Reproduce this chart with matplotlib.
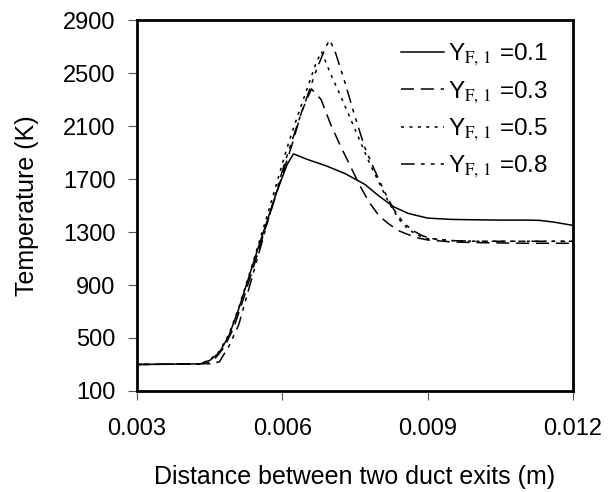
import matplotlib
matplotlib.use('Agg')
import matplotlib.pyplot as plt

# distance (m) and temperature (K), one pair of arrays per fuel fraction
x_01 = [0.003, 0.0043, 0.0045, 0.0047, 0.0049, 0.0051, 0.0053, 0.0055, 0.0057, 0.0059,
        0.0061, 0.00623, 0.0065, 0.0069, 0.0073, 0.0077, 0.0080, 0.0083, 0.0086, 0.0090,
        0.0095, 0.0100, 0.0105, 0.0110, 0.0113, 0.0116, 0.0120]
t_01 = [300, 305, 330, 390, 520, 720, 950, 1180, 1400, 1620,
        1810, 1890, 1850, 1800, 1740, 1660, 1570, 1490, 1440, 1405,
        1395, 1392, 1390, 1390, 1388, 1375, 1350]

x_03 = [0.003, 0.0044, 0.0046, 0.0048, 0.0050, 0.0052, 0.0054, 0.0056, 0.0058, 0.0060,
        0.0062, 0.0064, 0.0066, 0.0068, 0.0070, 0.0072, 0.0074, 0.0076, 0.0078, 0.0080,
        0.0082, 0.0084, 0.0086, 0.0088, 0.0090, 0.0095, 0.0100, 0.0110, 0.0120]
t_03 = [300, 305, 340, 430, 580, 800, 1030, 1270, 1500, 1730,
        1960, 2210, 2380, 2300, 2110, 1950, 1800, 1650, 1520, 1420,
        1360, 1310, 1280, 1255, 1240, 1225, 1220, 1215, 1215]

x_05 = [0.003, 0.0043, 0.0045, 0.0047, 0.0049, 0.0051, 0.0053, 0.0055, 0.0057, 0.0059,
        0.0061, 0.0063, 0.0065, 0.0067, 0.00681, 0.0070, 0.0072, 0.0074, 0.0076, 0.0078,
        0.0080, 0.0082, 0.0084, 0.0086, 0.0088, 0.0090, 0.0095, 0.0100, 0.0110, 0.0120]
t_05 = [300, 305, 335, 400, 530, 730, 960, 1200, 1440, 1690,
        1940, 2160, 2370, 2580, 2660, 2490, 2330, 2160, 1990, 1820,
        1670, 1520, 1400, 1320, 1275, 1250, 1235, 1230, 1230, 1230]

x_08 = [0.003, 0.0045, 0.0047, 0.0049, 0.0051, 0.0053, 0.0055, 0.0057, 0.0059, 0.0061,
        0.0063, 0.0065, 0.0067, 0.0069, 0.00698, 0.0071, 0.0073, 0.0075, 0.0077, 0.0079,
        0.0081, 0.0083, 0.0085, 0.0087, 0.0089, 0.0091, 0.0095, 0.0100, 0.0110, 0.0120]
t_08 = [300, 305, 320, 440, 600, 860, 1120, 1380, 1640, 1880,
        2100, 2310, 2520, 2700, 2750, 2650, 2420, 2170, 1940, 1770,
        1610, 1470, 1370, 1310, 1270, 1250, 1235, 1230, 1230, 1230]

labels = [r'Y$_{\mathrm{F,\,1}}$ =0.1', r'Y$_{\mathrm{F,\,1}}$ =0.3',
          r'Y$_{\mathrm{F,\,1}}$ =0.5', r'Y$_{\mathrm{F,\,1}}$ =0.8']
x_ticks = [0.003, 0.006, 0.009, 0.012]
y_ticks = [100, 500, 900, 1300, 1700, 2100, 2500, 2900]

plt.rcParams['font.family'] = ['Liberation Sans', 'DejaVu Sans']
plt.rcParams['mathtext.fontset'] = 'stix'

fig = plt.figure(figsize=(6.15, 4.92), dpi=100)
ax = fig.add_axes([0.2228, 0.2053, 0.7089, 0.754])

lw = 1.1
ax.plot(x_01, t_01, color='black', linewidth=lw, linestyle='-', label=labels[0])
ax.plot(x_03, t_03, color='black', linewidth=lw, linestyle=(0, (8.5, 4.5)), label=labels[1])
ax.plot(x_05, t_05, color='black', linewidth=lw, linestyle=(0, (2, 3.5)), label=labels[2])
ax.plot(x_08, t_08, color='black', linewidth=lw, linestyle=(0, (9, 4, 2.5, 4, 2.5, 4)),
        label=labels[3])

ax.set_xlim(0.003, 0.012)
ax.set_ylim(100, 2900)
ax.set_xticks(x_ticks)
ax.set_xticklabels(['%.3f' % v for v in x_ticks])
ax.set_yticks(y_ticks)

for side in ['left', 'right', 'top', 'bottom']:
    ax.spines[side].set_linewidth(2)
ax.tick_params(axis='both', direction='out', length=6.5, width=0.8, color='#555555',
               labelsize=17, pad=9)
ax.tick_params(axis='x', pad=13)

ax.set_xlabel('Distance between two duct exits (m)', fontsize=18, labelpad=18)
ax.set_ylabel('Temperature (K)', fontsize=18, labelpad=17)

ax.legend(loc='upper right', frameon=False, fontsize=17.5, handlelength=1.75,
          handletextpad=0.15, labelspacing=0.45, borderaxespad=0.2,
          bbox_to_anchor=(0.975, 0.98))

fig.savefig('out.png', dpi=100)
